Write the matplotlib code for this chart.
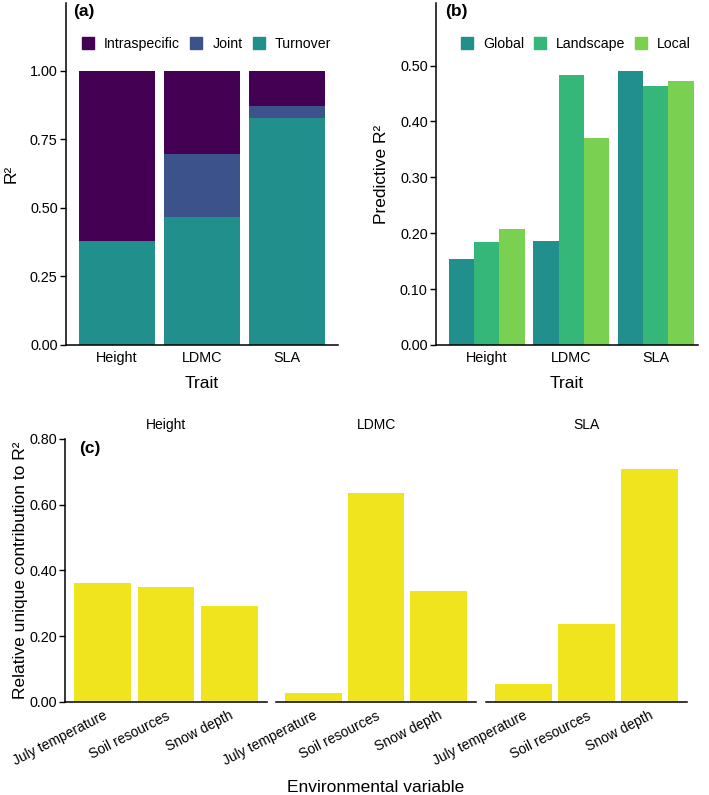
import matplotlib
matplotlib.use("Agg")
import matplotlib.pyplot as plt
from matplotlib.patches import Patch
import numpy as np

plt.rcParams['font.family'] = ['Liberation Sans', 'DejaVu Sans']

# ---------------- data ----------------
traits = ["Height", "LDMC", "SLA"]

# panel (a): variance partition (stacked)
turnover = [0.378, 0.467, 0.827]
joint = [0.0, 0.229, 0.045]
intraspecific = [0.622, 0.304, 0.128]

# panel (b): predictive R2
global_r2 = [0.154, 0.186, 0.490]
landscape_r2 = [0.185, 0.483, 0.464]
local_r2 = [0.207, 0.370, 0.472]

# panel (c): relative unique contribution
env_vars = ["July temperature", "Soil resources", "Snow depth"]
contrib = {
    "Height": [0.361, 0.349, 0.290],
    "LDMC": [0.028, 0.636, 0.336],
    "SLA": [0.054, 0.238, 0.709],
}

col_intra = "#440154"
col_joint = "#3B528B"
col_turn = "#21908C"
col_global = "#21908C"
col_land = "#35B779"
col_local = "#7AD151"
col_yellow = "#F0E41E"

W, H = 709, 795
fig = plt.figure(figsize=(W / 100, H / 100), dpi=100)


def rect(l, r, t, b):
    return [l / W, 1 - b / H, (r - l) / W, (b - t) / H]


def style(ax):
    for s in ("top", "right"):
        ax.spines[s].set_visible(False)
    ax.spines["left"].set_linewidth(1.1)
    ax.spines["bottom"].set_linewidth(1.1)
    ax.tick_params(axis="y", length=4, width=1, pad=2, labelsize=10.4, colors="black")
    ax.tick_params(axis="x", length=0, pad=4, labelsize=10.4)


x = np.arange(len(traits))

# ---------------- panel (a) ----------------
axa = fig.add_axes(rect(66, 338, 3, 345))
axa.bar(x, turnover, width=0.9, color=col_turn, label="Turnover")
axa.bar(x, joint, width=0.9, bottom=turnover, color=col_joint, label="Joint")
bot2 = [t + j for t, j in zip(turnover, joint)]
axa.bar(x, intraspecific, width=0.9, bottom=bot2, color=col_intra, label="Intraspecific")
axa.set_xlim(-0.6, 2.6)
axa.set_ylim(0, 1.248)
axa.set_yticks([0, 0.25, 0.5, 0.75, 1.0])
axa.set_yticklabels(["0.00", "0.25", "0.50", "0.75", "1.00"])
axa.set_xticks(x)
axa.set_xticklabels(traits)
style(axa)
handles_a = [Patch(color=col_intra), Patch(color=col_joint), Patch(color=col_turn)]
axa.legend(handles_a, ["Intraspecific", "Joint", "Turnover"], ncol=3, frameon=False,
           loc="center left", bbox_to_anchor=(0.058, 0.88), fontsize=10.2,
           handlelength=0.85, handleheight=0.85, handletextpad=0.7, columnspacing=0.75,
           borderpad=0, borderaxespad=0)
axa.set_xlabel("Trait", fontsize=12.5, labelpad=8)
axa.set_ylabel("R²", fontsize=12.5, labelpad=8)
fig.text(73 / W, 1 - 4 / H, "(a)", fontsize=12.5, fontweight="bold", ha="left", va="top")

# ---------------- panel (b) ----------------
axb = fig.add_axes(rect(436, 698, 3, 345))
bw = 0.3
axb.bar(x - bw, global_r2, width=bw, color=col_global, label="Global")
axb.bar(x, landscape_r2, width=bw, color=col_land, label="Landscape")
axb.bar(x + bw, local_r2, width=bw, color=col_local, label="Local")
axb.set_xlim(-0.6, 2.5)
axb.set_ylim(0, 0.612)
axb.set_yticks([0, 0.1, 0.2, 0.3, 0.4, 0.5])
axb.set_yticklabels(["0.00", "0.10", "0.20", "0.30", "0.40", "0.50"])
axb.set_xticks(x)
axb.set_xticklabels(traits)
style(axb)
handles_b = [Patch(color=col_global), Patch(color=col_land), Patch(color=col_local)]
axb.legend(handles_b, ["Global", "Landscape", "Local"], ncol=3, frameon=False,
           loc="center left", bbox_to_anchor=(0.095, 0.88), fontsize=10.2,
           handlelength=0.85, handleheight=0.85, handletextpad=0.7, columnspacing=0.7,
           borderpad=0, borderaxespad=0)
axb.set_xlabel("Trait", fontsize=12.5, labelpad=8)
axb.set_ylabel("Predictive R²", fontsize=12.5, labelpad=8)
fig.text(445 / W, 1 - 4 / H, "(b)", fontsize=12.5, fontweight="bold", ha="left", va="top")

# ---------------- panel (c) ----------------
facet_px = [(65, 267), (276, 476), (486, 687)]
xc = np.arange(len(env_vars))
for i, (tr, (l, r)) in enumerate(zip(traits, facet_px)):
    ax = fig.add_axes(rect(l, r, 439, 701.7))
    ax.bar(xc, contrib[tr], width=0.9, color=col_yellow)
    ax.set_xlim(-0.6, 2.6)
    ax.set_ylim(0, 0.8)
    ax.set_xticks(xc)
    ax.set_xticklabels(env_vars, rotation=27, ha="right", rotation_mode="anchor")
    style(ax)
    ax.tick_params(axis="x", pad=5, labelsize=10)
    ax.set_title(tr, fontsize=10, pad=7)
    if i == 0:
        ax.set_yticks([0, 0.2, 0.4, 0.6, 0.8])
        ax.set_yticklabels(["0.00", "0.20", "0.40", "0.60", "0.80"])
        ax.set_ylabel("Relative unique contribution to R²", fontsize=12.5, labelpad=1)
    else:
        ax.spines["left"].set_visible(False)
        ax.set_yticks([])
fig.text(79 / W, 1 - 441 / H, "(c)", fontsize=12.5, fontweight="bold", ha="left", va="top")
fig.text(376 / W, 1 - 792 / H, "Environmental variable", fontsize=12.5, ha="center", va="baseline")

fig.savefig("out.png", dpi=100)
